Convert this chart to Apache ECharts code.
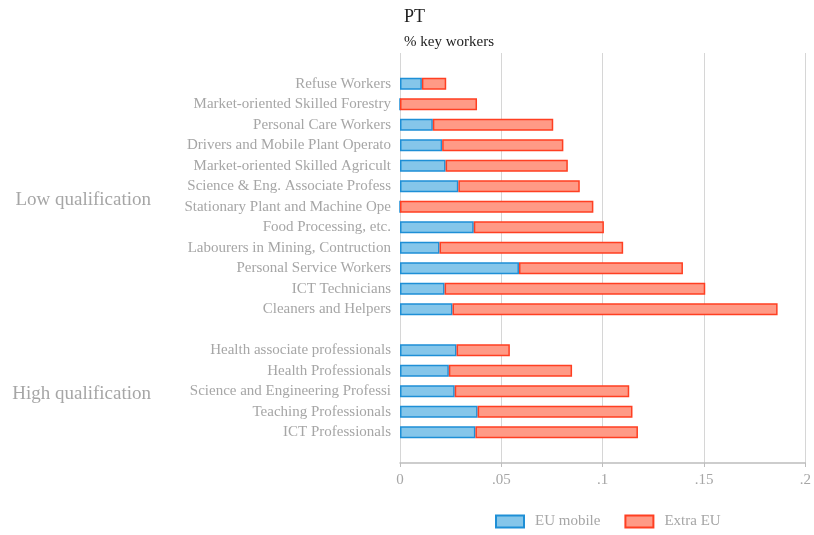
<!DOCTYPE html>
<html>
<head>
<meta charset="utf-8">
<script src="https://cdn.jsdelivr.net/npm/echarts@6/dist/echarts.min.js"></script>
<style>
  html, body { margin: 0; padding: 0; background: #fff; }
  #chart { width: 814px; height: 535px; }
</style>
</head>
<body>
<div id="chart"></div>
<script>
// Occupations by qualification group (top to bottom)
const lowCategories = [
  'Refuse Workers',
  'Market-oriented Skilled Forestry',
  'Personal Care Workers',
  'Drivers and Mobile Plant Operato',
  'Market-oriented Skilled Agricult',
  'Science & Eng. Associate Profess',
  'Stationary Plant and Machine Ope',
  'Food Processing, etc.',
  'Labourers in Mining, Contruction',
  'Personal Service Workers',
  'ICT Technicians',
  'Cleaners and Helpers'
];
const highCategories = [
  'Health associate professionals',
  'Health Professionals',
  'Science and Engineering Professi',
  'Teaching Professionals',
  'ICT Professionals'
];
const groupNames = ['Low qualification', 'High qualification'];

// Share of key workers, PT
const lowEuMobile  = [0.0108, 0, 0.0162, 0.0208, 0.0225, 0.0288, 0, 0.0364, 0.0195, 0.0587, 0.0220, 0.0259];
const lowExtraEu   = [0.0120, 0.0380, 0.0594, 0.0598, 0.0603, 0.0599, 0.0954, 0.0642, 0.0906, 0.0809, 0.1286, 0.1604];
const highEuMobile = [0.0279, 0.0241, 0.0270, 0.0383, 0.0372];
const highExtraEu  = [0.0263, 0.0608, 0.0861, 0.0764, 0.0802];

const xTicks = [0, 0.05, 0.1, 0.15, 0.2];

// Axis rows: blank padding row, low group, blank spacer, high group, blank padding row
const categories = [''].concat(lowCategories, [' '], highCategories, ['  ']);
const euMobile = [null].concat(lowEuMobile, [null], highEuMobile, [null]);
const extraEu = [null].concat(lowExtraEu, [null], highExtraEu, [null]);

const FONT = 'Liberation Serif';
const GREY = '#a6a6a6';

const chart = echarts.init(document.getElementById('chart'));
chart.setOption({
  animation: false,
  textStyle: { fontFamily: FONT },
  title: {
    text: 'PT',
    subtext: '% key workers',
    left: 399,
    top: 3,
    itemGap: 9,
    textStyle: { fontFamily: FONT, fontSize: 18, fontWeight: 'normal', color: '#222' },
    subtextStyle: { fontFamily: FONT, fontSize: 15, color: '#222' }
  },
  legend: {
    bottom: 1,
    left: 490,
    icon: 'rect',
    itemWidth: 28,
    itemHeight: 12,
    itemGap: 24,
    textStyle: { fontFamily: FONT, fontSize: 15, color: GREY, padding: [0, 0, 0, 6] },
    data: ['EU mobile', 'Extra EU']
  },
  grid: { left: 400, right: 7, top: 53, bottom: 72, containLabel: false },
  xAxis: {
    type: 'value',
    min: xTicks[0],
    max: xTicks[xTicks.length - 1],
    interval: xTicks[1] - xTicks[0],
    axisLine: { show: true, lineStyle: { color: '#bdbdbd', width: 1.5 } },
    axisTick: { show: true, length: 4, lineStyle: { color: '#bdbdbd' } },
    axisLabel: {
      color: GREY, fontSize: 15, fontFamily: FONT, margin: 10,
      formatter: v => (v === 0 ? '0' : String(+v.toFixed(2)).replace(/^0\./, '.'))
    },
    splitLine: { show: true, lineStyle: { color: '#d6d6d6', width: 1 } }
  },
  yAxis: {
    type: 'category',
    inverse: true,
    data: categories,
    axisLine: { show: false },
    axisTick: { show: false },
    axisLabel: { color: GREY, fontSize: 15, fontFamily: FONT, margin: 9, interval: 0 }
  },
  series: [
    {
      name: 'EU mobile',
      type: 'bar',
      stack: 'share',
      barWidth: 12,
      data: euMobile,
      itemStyle: { color: '#85c6ea', borderColor: '#1e8fd6', borderWidth: 1.5 }
    },
    {
      name: 'Extra EU',
      type: 'bar',
      stack: 'share',
      barWidth: 12,
      data: extraEu,
      itemStyle: { color: '#ff9a86', borderColor: '#ff3f22', borderWidth: 1.5 }
    }
  ]
});

// Group captions centred on their block of rows
function groupCentre(firstIdx, lastIdx) {
  const a = chart.convertToPixel({ yAxisIndex: 0 }, firstIdx);
  const b = chart.convertToPixel({ yAxisIndex: 0 }, lastIdx);
  return (a + b) / 2;
}
const lowStart = 1, lowEnd = lowCategories.length;
const highStart = lowEnd + 2, highEnd = highStart + highCategories.length - 1;
chart.setOption({
  graphic: [
    {
      type: 'text', right: 814 - 151, top: groupCentre(lowStart, lowEnd) - 6,
      style: { text: groupNames[0], fontFamily: FONT, fontSize: 19, fill: GREY, textAlign: 'right' }
    },
    {
      type: 'text', right: 814 - 151, top: groupCentre(highStart, highEnd) - 7,
      style: { text: groupNames[1], fontFamily: FONT, fontSize: 19, fill: GREY, textAlign: 'right' }
    }
  ]
});
</script>
</body>
</html>
